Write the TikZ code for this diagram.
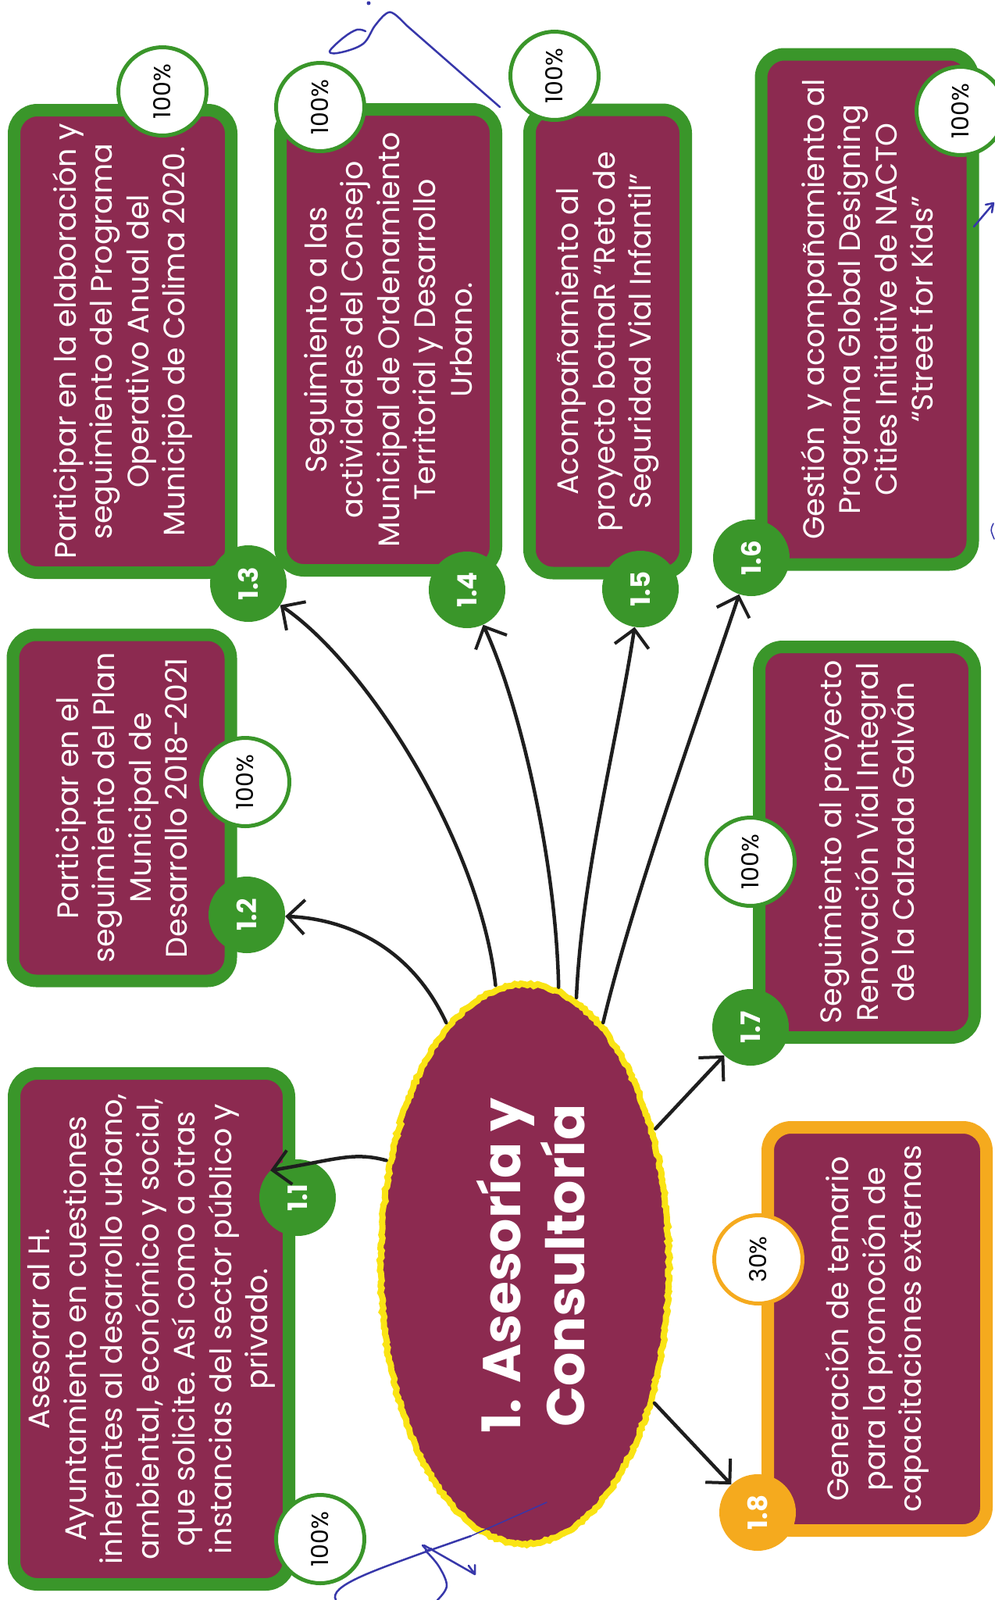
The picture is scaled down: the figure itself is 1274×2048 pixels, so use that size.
\documentclass[tikz,border=0pt]{standalone}
\usepackage{fontspec}
\setmainfont{Poppins}
\usetikzlibrary{shapes.geometric,arrows.meta,decorations.pathmorphing}
\definecolor{boxmaroon}{RGB}{140,42,80}
\definecolor{boxgreen}{RGB}{58,150,42}
\definecolor{boxorange}{RGB}{245,170,30}
\definecolor{yellowrim}{RGB}{250,228,20}
\definecolor{inkblack}{RGB}{30,30,30}
\definecolor{inkblue}{RGB}{55,55,170}
\begin{document}
\begin{tikzpicture}[x=1pt,y=-1pt,
  taskbox/.style={rectangle, rounded corners=30pt, fill=boxmaroon, draw=boxgreen, line width=16pt,
    text=white, align=center, font=\fontsize{38}{46.5}\selectfont, rotate=90, inner sep=0pt},
  pct/.style={circle, fill=white, draw=boxgreen, line width=5pt, minimum size=113pt, inner sep=0pt,
    font=\fontsize{30}{30}\selectfont, rotate=90},
  badge/.style={circle, fill=boxgreen, minimum size=98pt, inner sep=0pt, text=white,
    font=\bfseries\fontsize{34}{34}\selectfont, rotate=90},
  link/.style={line width=4.5pt, draw=inkblack, line cap=round, -{Straight Barb[length=22pt,width=44pt,line width=4pt]}, shorten <=2pt},
  scribble/.style={draw=inkblue, line width=2.5pt, line cap=round, line join=round}
]
\fill[white] (0,0) rectangle (1274,2048);
\useasboundingbox (0,0) rectangle (1274,2048);

% task boxes
\node[taskbox, minimum width=654pt, minimum height=352pt] (t11) at (194,1701)
  {Asesorar al H.\\Ayuntamiento en cuestiones\\inherentes al desarrollo urbano,\\ambiental, económico y social,\\que solicite. Así como a otras\\instancias del sector público y\\privado.};
\node[taskbox, minimum width=443pt, minimum height=279pt] (t12) at (156,1034)
  {Participar en el\\seguimiento del Plan\\Municipal de\\Desarrollo 2018-2021};
\node[taskbox, minimum width=592pt, minimum height=278pt] (t13) at (157,437)
  {Participar en la elaboración y\\seguimiento del Programa\\Operativo Anual del\\Municipio de Colima 2020.};
\node[taskbox, minimum width=590pt, minimum height=276pt] (t14) at (497,435)
  {Seguimiento a las\\actividades del Consejo\\Municipal de Ordenamiento\\Territorial y Desarrollo\\Urbano.};
\node[taskbox, minimum width=593pt, minimum height=200pt] (t15) at (778,437)
  {Acompañamiento al\\proyecto botnaR “Reto de\\Seguridad Vial Infantil”};
\node[taskbox, minimum width=653pt, minimum height=271pt] (t16) at (1110,396)
  {Gestión\ \ y acompañamiento al\\Programa Global Designing\\Cities Initiative de NACTO\\“Street for Kids”};
\node[taskbox, minimum width=500pt, minimum height=276pt] (t17) at (1110,1078)
  {Seguimiento al proyecto\\Renovación Vial Integral\\de la Calzada Galván};
\node[taskbox, draw=boxorange, minimum width=516pt, minimum height=280pt] (t18) at (1123,1701)
  {Generación de temario\\para la promoción de\\capacitaciones externas};

% percentage circles
\node[pct] (p11) at (410,1970) {100\%};
\node[pct] (p12) at (314,1001) {100\%};
\node[pct] (p13) at (208,117) {100\%};
\node[pct] (p14) at (410,137) {100\%};
\node[pct] (p15) at (710,97) {100\%};
\node[pct] (p16) at (1230,142) {100\%};
\node[pct] (p17) at (961,1103) {100\%};
\node[pct, draw=boxorange] (p18) at (971,1612) {30\%};

% number badges
\node[badge] (b11) at (381,1533) {1.1};
\node[badge] (b12) at (316,1171) {1.2};
\node[badge] (b13) at (318,747) {1.3};
\node[badge] (b14) at (598,755) {1.4};
\node[badge] (b15) at (820,754) {1.5};
\node[badge] (b16) at (962,714) {1.6};
\node[badge] (b17) at (961,1315) {1.7};
\node[badge, fill=boxorange] (b18) at (970,1936) {1.8};

% central ellipse
\node[ellipse, minimum width=369pt, minimum height=716pt, inner sep=0pt, fill=boxmaroon,
  draw=yellowrim, line width=8pt, decorate,
  decoration={random steps, segment length=4pt, amplitude=1.5pt}] (core) at (672,1618) {};
\node[rotate=90, text=white, align=center, font=\bfseries\fontsize{68}{82}\selectfont] (title) at (680,1620)
  {1. Asesoría y\\Consultoría};

% connectors
\draw[link] (core.143) .. controls (452,1474) and (432,1484) .. (b11.45);
\draw[link] (core.108) .. controls (518,1195) and (420,1175) .. (b12);
\draw[link] (core.96) .. controls (615,1080) and (470,850) .. (b13);
\draw[link] (core.83) .. controls (712,1100) and (665,900) .. (b14);
\draw[link] (core.79) .. controls (745,1120) and (790,950) .. (b15);
\draw[link] (core.72) .. controls (810,1150) and (900,900) .. (b16);
\draw[link] (core.46) -- (b17);
\draw[link] (core.-47) -- (b18);

% blue pen marks
\draw[scribble] plot[smooth, tension=0.6] coordinates {(468,40) (457,38) (440,48) (422,66) (437,67) (465,56) (480,33) (495,17) (505,18) (520,32)};
\draw[scribble] (520,32) -- (640,137);
\fill[inkblue] (472,4) circle (2.5pt);
\draw[scribble, line width=1.5pt] (700,1923) -- (603,1966);
\draw[scribble] (603,1966) -- (543,1987) .. controls (480,2010) and (420,2030) .. (430,2048);
\draw[scribble] plot[smooth, tension=0.6] coordinates {(545,1985) (562,2005) (572,2030) (560,2048)};
\draw[scribble] (543,1978) -- (608,2015);
\draw[scribble] (600,2004) -- (608,2015) -- (608,2003);
\draw[scribble] (541,1978) -- (547,1985) -- (552,1982);
\draw[scribble] (1247,290) -- (1270,263);
\draw[scribble] (1262,262) -- (1272,260) -- (1270,272);
\draw[scribble, line width=1.5pt] (1272,670) .. controls (1268,678) .. (1273,690);
\end{tikzpicture}
\end{document}
